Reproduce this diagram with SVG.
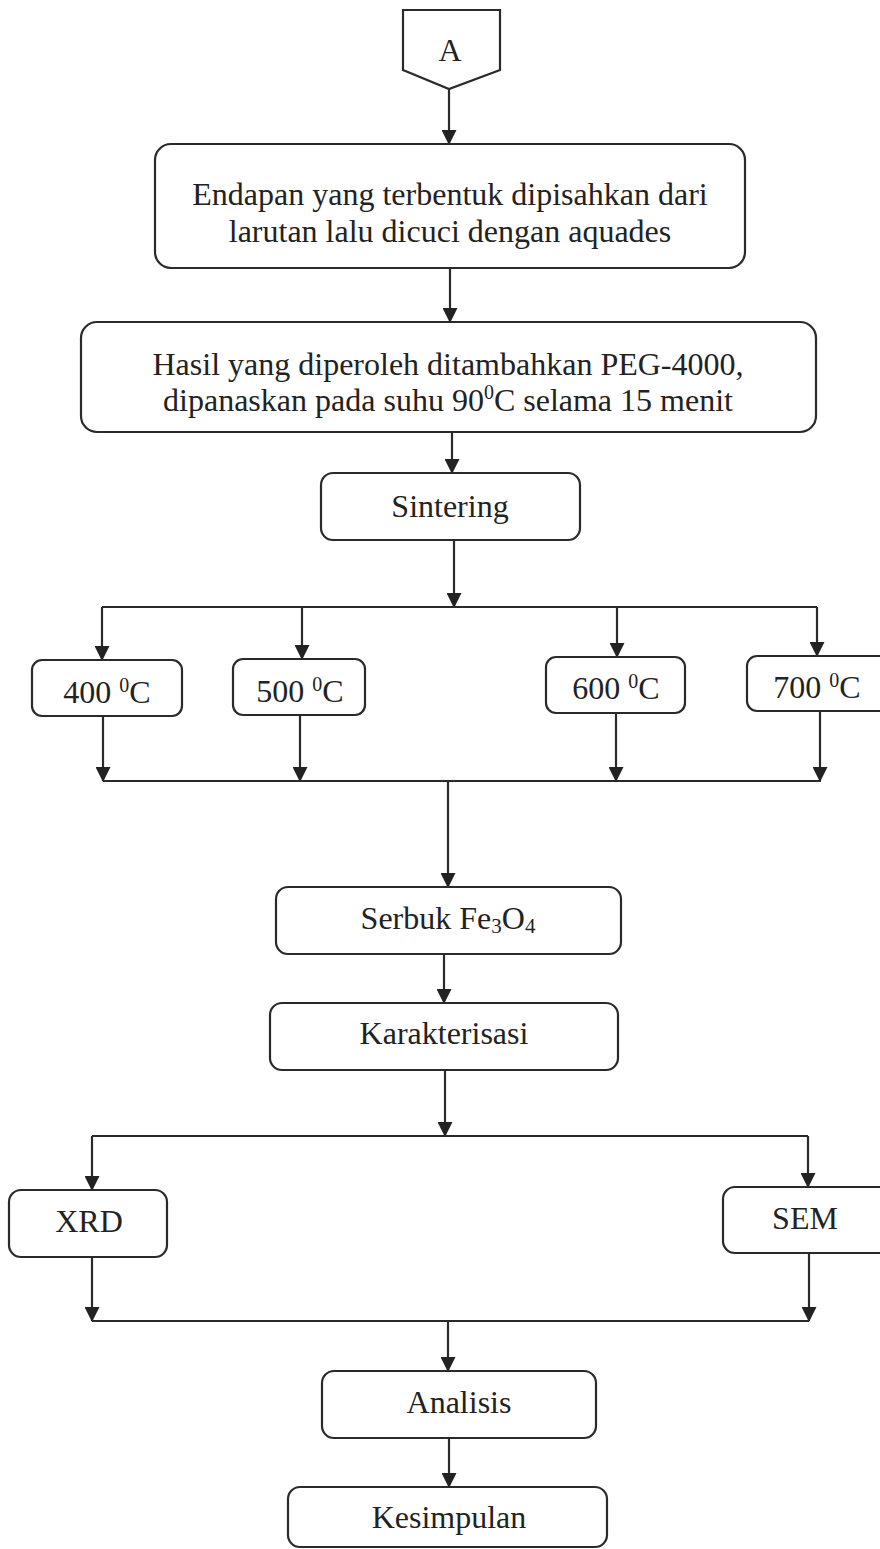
<svg xmlns="http://www.w3.org/2000/svg" width="880" height="1549" viewBox="0 0 880 1549">
<defs>
<marker id="arr" markerUnits="userSpaceOnUse" markerWidth="15" markerHeight="15" refX="14" refY="7.5" orient="auto">
<path d="M0,0 L15,7.5 L0,15 z" fill="#222"/>
</marker>
<style>
.box{fill:#fff;stroke:#2a2a2a;stroke-width:2.2}
.t{font-family:"Liberation Serif","Times New Roman",serif;font-size:32px;fill:#222;text-anchor:middle}
.c{fill:none;stroke:#2a2a2a;stroke-width:2.2}
.a{fill:none;stroke:#2a2a2a;stroke-width:2.2;marker-end:url(#arr)}
</style>
</defs>
<rect width="880" height="1549" fill="#fff"/>

<g id="connectors">
<line class="a" x1="449" y1="89" x2="449" y2="144"/>
<line class="a" x1="450" y1="268" x2="450" y2="322"/>
<line class="a" x1="452" y1="432" x2="452" y2="473"/>
<line class="a" x1="454" y1="540" x2="454" y2="607"/>
<line class="c" x1="102" y1="607" x2="817" y2="607"/>
<line class="a" x1="102" y1="607" x2="102" y2="660"/>
<line class="a" x1="302" y1="607" x2="302" y2="659"/>
<line class="a" x1="617" y1="607" x2="617" y2="657"/>
<line class="a" x1="817" y1="607" x2="817" y2="656"/>
<line class="a" x1="103" y1="716" x2="103" y2="781"/>
<line class="a" x1="300" y1="715" x2="300" y2="781"/>
<line class="a" x1="616" y1="713" x2="616" y2="781"/>
<line class="a" x1="820" y1="711" x2="820" y2="781"/>
<line class="c" x1="103" y1="781" x2="821" y2="781"/>
<line class="a" x1="448" y1="781" x2="448" y2="887"/>
<line class="a" x1="444" y1="954" x2="444" y2="1003"/>
<line class="a" x1="445" y1="1070" x2="445" y2="1136"/>
<line class="c" x1="92" y1="1136" x2="808" y2="1136"/>
<line class="a" x1="92" y1="1136" x2="92" y2="1190"/>
<line class="a" x1="808" y1="1136" x2="808" y2="1187"/>
<line class="a" x1="92" y1="1257" x2="92" y2="1321"/>
<line class="a" x1="809" y1="1253" x2="809" y2="1321"/>
<line class="c" x1="92" y1="1321" x2="809" y2="1321"/>
<line class="a" x1="448" y1="1321" x2="448" y2="1371"/>
<line class="a" x1="449" y1="1438" x2="449" y2="1487"/>
</g>

<g id="node-A">
<polygon class="box" points="403,10 500,10 500,70 449,89 403,70"/>
<text class="t" x="450" y="61">A</text>
</g>

<g id="node-endapan">
<rect class="box" x="155" y="144" width="590" height="124" rx="16"/>
<text class="t" x="450" y="205">Endapan yang terbentuk dipisahkan dari</text>
<text class="t" x="450" y="242">larutan lalu dicuci dengan aquades</text>
</g>

<g id="node-hasil">
<rect class="box" x="81" y="322" width="735" height="110" rx="16"/>
<text class="t" x="448" y="375">Hasil yang diperoleh ditambahkan PEG-4000,</text>
<text class="t" x="448" y="411">dipanaskan pada suhu 90<tspan dy="-12" style="font-size:20px">0</tspan><tspan dy="12">C selama 15 menit</tspan></text>
</g>

<g id="node-sintering">
<rect class="box" x="321" y="473" width="259" height="67" rx="12"/>
<text class="t" x="450" y="517">Sintering</text>
</g>

<g id="node-400">
<rect class="box" x="32" y="660" width="150" height="56" rx="10"/>
<text class="t" x="107" y="703">400 <tspan dy="-11" style="font-size:20px">0</tspan><tspan dy="11">C</tspan></text>
</g>
<g id="node-500">
<rect class="box" x="233" y="659" width="132" height="56" rx="10"/>
<text class="t" x="300" y="702">500 <tspan dy="-11" style="font-size:20px">0</tspan><tspan dy="11">C</tspan></text>
</g>
<g id="node-600">
<rect class="box" x="546" y="657" width="139" height="56" rx="10"/>
<text class="t" x="616" y="699">600 <tspan dy="-11" style="font-size:20px">0</tspan><tspan dy="11">C</tspan></text>
</g>
<g id="node-700">
<rect class="box" x="747" y="656" width="145" height="55" rx="10"/>
<text class="t" x="817" y="698">700 <tspan dy="-11" style="font-size:20px">0</tspan><tspan dy="11">C</tspan></text>
</g>

<g id="node-serbuk">
<rect class="box" x="276" y="887" width="345" height="67" rx="12"/>
<text class="t" x="448" y="929">Serbuk Fe<tspan dy="4" style="font-size:21px">3</tspan><tspan dy="-4">O</tspan><tspan dy="4" style="font-size:21px">4</tspan></text>
</g>

<g id="node-karakterisasi">
<rect class="box" x="270" y="1003" width="348" height="67" rx="12"/>
<text class="t" x="444" y="1044">Karakterisasi</text>
</g>

<g id="node-xrd">
<rect class="box" x="9" y="1190" width="158" height="67" rx="12"/>
<text class="t" x="89" y="1232">XRD</text>
</g>

<g id="node-sem">
<rect class="box" x="723" y="1187" width="170" height="66" rx="12"/>
<text class="t" x="805" y="1229">SEM</text>
</g>

<g id="node-analisis">
<rect class="box" x="322" y="1371" width="274" height="67" rx="12"/>
<text class="t" x="459" y="1413">Analisis</text>
</g>

<g id="node-kesimpulan">
<rect class="box" x="288" y="1487" width="319" height="60" rx="12"/>
<text class="t" x="449" y="1528">Kesimpulan</text>
</g>
</svg>
